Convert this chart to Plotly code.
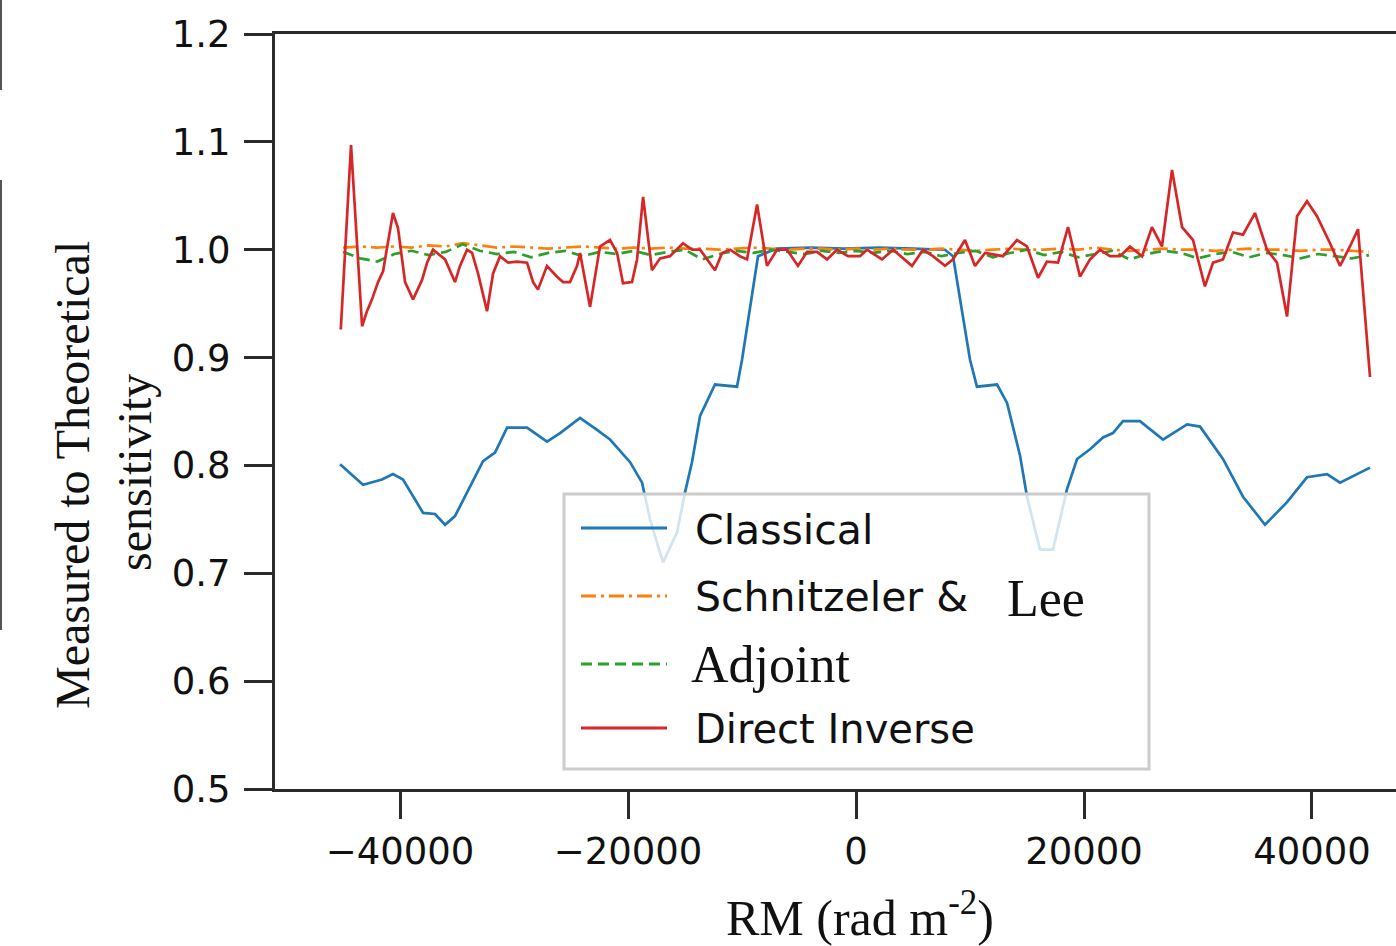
import plotly.graph_objects as go

# ---------------- data ----------------
# Classical
rm_classical = [-45260, -43250, -41580, -40620, -39740, -37980, -36930, -36050, -35180,
                -34120, -32720, -31670, -30610, -28860, -27110, -25960, -24210, -22720,
                -21580, -19820, -18770, -18070, -16930, -15700, -15000, -14390, -13680,
                -12370, -10440, -10000, -9040, -8600, -7000, -4000, -1000, 2000, 5000,
                7800, 8510, 9120, 10000, 10610, 12370, 13250, 14390, 15000, 16140, 17280,
                18510, 19390, 20530, 21670, 22540, 23420, 24910, 26930, 29040, 30180,
                32190, 33950, 35880, 37810, 39560, 41320, 42460, 45090]
classical = [0.801, 0.782, 0.787, 0.792, 0.787, 0.756, 0.755, 0.745, 0.753,
             0.775, 0.804, 0.812, 0.835, 0.835, 0.822, 0.830, 0.844, 0.833,
             0.824, 0.803, 0.784, 0.750, 0.710, 0.738, 0.775, 0.803, 0.846,
             0.875, 0.873, 0.898, 0.963, 0.994, 1.001, 1.002, 1.001, 1.002, 1.001,
             1.000, 0.994, 0.954, 0.898, 0.873, 0.875, 0.858, 0.809, 0.771, 0.722, 0.722,
             0.778, 0.806, 0.815, 0.826, 0.830, 0.841, 0.841, 0.824, 0.838, 0.836,
             0.806, 0.771, 0.745, 0.766, 0.789, 0.792, 0.784, 0.798]

# Schnitzeler & Lee and Adjoint share one RM grid
rm_grid = list(range(-45000, 45001, 1500))
schnitzeler_lee = [1.002, 1.003, 1.002, 1.003, 1.002, 1.004, 1.003, 1.006, 1.004, 1.002,
                   1.003, 1.002, 1.001, 1.002, 1.003, 1.002, 1.001, 1.002, 1.001, 1.002,
                   1.001, 1.001, 1.000, 1.001, 1.002, 1.001, 1.000, 1.001, 1.001, 1.000,
                   1.001, 1.000, 1.001, 1.000, 1.000, 1.001, 1.000, 0.999, 1.000, 1.001,
                   1.000, 1.000, 1.001, 1.000, 1.002, 1.000, 0.999, 1.000, 1.001, 1.000,
                   1.000, 0.999, 1.000, 1.001, 1.000, 1.000, 0.999, 1.000, 1.000, 0.999,
                   0.998]
adjoint = [0.998, 0.992, 0.989, 0.996, 0.999, 0.995, 0.998, 1.005, 0.999, 0.996,
           0.998, 0.993, 0.997, 0.999, 0.994, 0.998, 0.996, 0.999, 0.995, 0.998,
           1.000, 0.991, 0.996, 0.999, 0.997, 1.000, 0.998, 0.996, 0.999, 0.997,
           0.999, 0.997, 0.999, 0.996, 0.998, 0.994, 0.997, 0.999, 0.993, 0.997,
           1.000, 0.995, 0.998, 0.993, 0.996, 0.999, 0.991, 0.996, 0.999, 0.997,
           0.992, 0.996, 0.998, 0.993, 0.997, 0.995, 0.992, 0.996, 0.994, 0.992,
           0.995]

# Direct Inverse
rm_direct = [-45200, -44300, -43330, -42900, -42460, -41930, -41490, -40620, -40180,
             -39560, -38860, -38070, -37630, -37110, -36050, -35180, -34740, -34120,
             -33680, -33160, -32370, -31840, -31230, -30530, -29740, -28860, -28330,
             -27900, -27110, -26230, -25700, -25090, -24470, -24210, -23330, -22460,
             -21580, -20960, -20440, -19650, -19210, -18680, -17900, -17190, -16320,
             -15180, -14390, -13680, -12370, -11750, -11050, -10180, -9560, -8680,
             -7810, -6930, -6050, -5090, -4300, -3420, -2540, -1670, -700, 350, 960,
             2280, 3250, 4910, 5880, 6750, 7810, 8510, 9560, 10440, 11320, 12890,
             14120, 15000, 15970, 16750, 17720, 18600, 19650, 20530, 21400, 22280,
             23160, 24030, 25090, 25960, 26840, 27720, 28600, 29560, 30610, 31320,
             32190, 33070, 33950, 35000, 36050, 36930, 37810, 38690, 39560, 40440,
             41580, 42460, 43330, 44040, 45090]
direct_inverse = [0.926, 1.097, 0.929, 0.943, 0.954, 0.970, 0.980, 1.034, 1.020,
                  0.970, 0.954, 0.972, 0.988, 1.000, 0.991, 0.970, 0.985, 1.000,
                  0.997, 0.978, 0.943, 0.978, 0.994, 0.988, 0.989, 0.988, 0.970,
                  0.963, 0.985, 0.975, 0.970, 0.970, 0.985, 0.997, 0.947, 1.003,
                  1.009, 0.997, 0.969, 0.970, 0.991, 1.049, 0.981, 0.992, 0.994,
                  1.006, 1.000, 1.000, 0.981, 0.997, 1.000, 0.994, 0.991, 1.042,
                  0.985, 1.000, 1.000, 0.985, 0.998, 0.998, 0.991, 1.000, 0.994, 0.994, 1.000,
                  0.991, 1.000, 0.985, 1.000, 0.994, 0.985, 0.991, 1.009, 0.985, 0.997, 0.994,
                  1.009, 1.003, 0.974, 0.989, 0.988, 1.021, 0.975, 0.991, 1.000, 0.994,
                  0.994, 1.003, 0.994, 1.021, 1.003, 1.074, 1.021, 1.009, 0.966, 0.988,
                  0.991, 1.016, 1.014, 1.034, 1.000, 0.988, 0.938, 1.031, 1.045, 1.031,
                  1.006, 0.985, 1.003, 1.019, 0.882]

x_ticks = [-40000, -20000, 0, 20000, 40000]
x_tick_text = ["\u221240000", "\u221220000", "0", "20000", "40000"]
y_ticks = [0.5, 0.6, 0.7, 0.8, 0.9, 1.0, 1.1, 1.2]

legend_labels = ["Classical", "Schnitzeler &", "Adjoint", "Direct Inverse"]

# ---------------- styling ----------------
BLUE, ORANGE, GREEN, RED = "#1f77b4", "#ff7f0e", "#2ca02c", "#d62728"
AX = "#2b2b2b"
SANS = "DejaVu Sans"
SERIF = "Liberation Serif"
W, H = 1396, 946
ML, MR, MT, MB = 275, 0, 34, 157
LW = 2.7

fig = go.Figure()
fig.add_trace(go.Scatter(x=rm_classical, y=classical, mode="lines", name="Classical",
                         line=dict(color=BLUE, width=LW)))
fig.add_trace(go.Scatter(x=rm_grid, y=schnitzeler_lee, mode="lines", name="Schnitzeler & Lee",
                         line=dict(color=ORANGE, width=LW, dash="15px,5px,3px,5px")))
fig.add_trace(go.Scatter(x=rm_grid, y=adjoint, mode="lines", name="Adjoint",
                         line=dict(color=GREEN, width=LW, dash="11px,6px")))
fig.add_trace(go.Scatter(x=rm_direct, y=direct_inverse, mode="lines", name="Direct Inverse",
                         line=dict(color=RED, width=LW)))


def px_x(p):
    return (p - ML) / (W - ML - MR)


def px_y(p):
    return (H - MB - p) / (H - MT - MB)


shapes = []
annotations = []

# legend frame and samples
shapes.append(dict(type="rect", xref="paper", yref="paper", layer="above",
                   x0=px_x(564), x1=px_x(1149), y0=px_y(769), y1=px_y(494),
                   fillcolor="rgba(255,255,255,0.8)", line=dict(color="#cccccc", width=3)))
legend_rows = [(528, BLUE, "solid"), (596, ORANGE, "15px,5px,3px,5px"),
               (664, GREEN, "11px,6px"), (728, RED, "solid")]
for yy, col, dsh in legend_rows:
    shapes.append(dict(type="line", xref="paper", yref="paper", layer="above",
                       x0=px_x(581), x1=px_x(667), y0=px_y(yy), y1=px_y(yy),
                       line=dict(color=col, width=3, dash=dsh)))

def label(text, x, y, font, size):
    annotations.append(dict(text=text, xref="paper", yref="paper", x=px_x(x), y=px_y(y),
                            xanchor="left", yanchor="middle", showarrow=False,
                            font=dict(family=font, size=size, color="#111111")))

label(legend_labels[0], 693, 530, SANS, 41)
label(legend_labels[1], 693, 597, SANS, 41)
label("Lee", 1005, 598, SERIF, 52)
label(legend_labels[2], 689, 664, SERIF, 52)
label(legend_labels[3], 693, 729, SANS, 40)

# axis titles
annotations.append(dict(text="Measured to Theoretical", xref="paper", yref="paper",
                        x=px_x(73), y=px_y(475), textangle=-90, showarrow=False,
                        xanchor="center", yanchor="middle",
                        font=dict(family=SERIF, size=48, color="#111111")))
annotations.append(dict(text="sensitivity", xref="paper", yref="paper",
                        x=px_x(134), y=px_y(473), textangle=-90, showarrow=False,
                        xanchor="center", yanchor="middle",
                        font=dict(family=SERIF, size=48, color="#111111")))
annotations.append(dict(text="RM (rad m<sup>-2</sup>)", xref="paper", yref="paper",
                        x=px_x(860), y=px_y(914), showarrow=False,
                        xanchor="center", yanchor="middle",
                        font=dict(family=SERIF, size=50, color="#111111")))

# frame edges of the neighbouring panel on the left
for y0, y1 in [(0, 90), (180, 630)]:
    shapes.append(dict(type="line", xref="paper", yref="paper",
                       x0=px_x(1), x1=px_x(1), y0=px_y(y0), y1=px_y(y1),
                       line=dict(color="#555555", width=2)))

fig.update_layout(
    width=W, height=H,
    margin=dict(l=ML, r=MR, t=MT, b=MB),
    paper_bgcolor="white", plot_bgcolor="white",
    showlegend=False,
    shapes=shapes, annotations=annotations,
    font=dict(family=SANS, color="#111111"),
)
fig.update_xaxes(range=[-50970, 47370], tickvals=x_ticks, ticktext=x_tick_text,
                 showgrid=False, zeroline=False, showline=True, linecolor=AX, linewidth=3,
                 mirror=True, ticks="outside", ticklen=27, tickwidth=2.5, tickcolor=AX,
                 ticklabelstandoff=1,
                 tickfont=dict(family=SANS, size=37, color="#111111"))
fig.update_yaxes(range=[0.5, 1.2], tickvals=y_ticks, tickformat=".1f",
                 showgrid=False, zeroline=False, showline=True, linecolor=AX, linewidth=3,
                 mirror=False, ticks="outside", ticklen=28, tickwidth=2.5, tickcolor=AX,
                 ticklabelstandoff=6,
                 tickfont=dict(family=SANS, size=37, color="#111111"))

fig.write_html("out.html")
